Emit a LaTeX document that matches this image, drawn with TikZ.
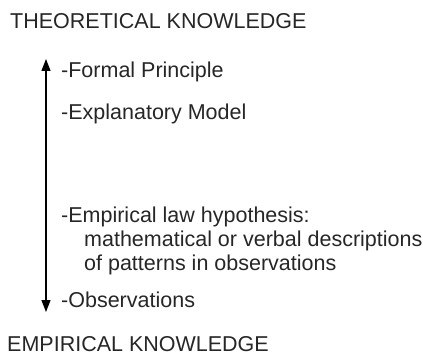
\documentclass[tikz,border=0pt]{standalone}
\usepackage{fontspec}
\setmainfont{Liberation Sans}
\usepackage{tikz}
\usetikzlibrary{arrows.meta}

\tikzset{
    txt/.style={anchor=base west, inner sep=0pt, font=\fontsize{21.5}{23}\selectfont, text=black!85},
}

\begin{document}
\begin{tikzpicture}[x=1pt, y=-1pt]
    \useasboundingbox (0,0) rectangle (423,358);

    % 两端标题
    \node[txt] (theory) at (10, 29) {THEORETICAL KNOWLEDGE};
    \node[txt] (empiric) at (7, 351) {EMPIRICAL KNOWLEDGE};

    % 各层次
    \node[txt] (formal) at (61, 78) {-Formal Principle};
    \node[txt] (model) at (61, 120) {-Explanatory Model};
    \node[txt] (law) at (61, 223) {-Empirical law hypothesis:};
    \node[txt] (lawa) at (84, 247) {mathematical or verbal descriptions};
    \node[txt] (lawb) at (84, 270) {of patterns in observations};
    \node[txt] (obs) at (61, 307) {-Observations};

    % 双向箭头
    \coordinate (top) at (46, 59);
    \coordinate (bot) at (46, 312);
    \draw[line width=1.3pt, {Triangle[length=12pt,width=9pt]}-{Triangle[length=12pt,width=9pt]}] (top) -- (bot);

\end{tikzpicture}
\end{document}
